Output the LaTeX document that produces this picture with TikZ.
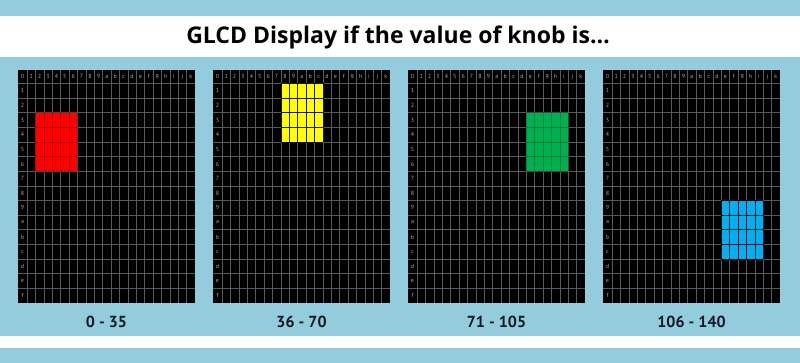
\documentclass[tikz,border=0pt]{standalone}
\usepackage{fontspec}
\setmainfont{PT Sans}
\newfontfamily\titlefont{Open Sans}
\definecolor{bandblue}{HTML}{93CDDD}
\definecolor{gridgray}{HTML}{5A5A5A}
\definecolor{labelgray}{HTML}{A8A8A8}
\definecolor{inkblack}{HTML}{101820}
\definecolor{litred}{HTML}{FF0000}
\definecolor{lityellow}{HTML}{FFFF00}
\definecolor{litgreen}{HTML}{00B050}
\definecolor{litblue}{HTML}{00B0F0}
\begin{document}
\begin{tikzpicture}[x=1pt, y=-1pt,
    gridline/.style = {draw=gridgray, line width=0.6pt},
    celltext/.style = {text=labelgray, inner sep=0pt, font=\fontsize{6}{7}\selectfont},
    titletext/.style = {text=black, inner sep=0pt, font=\titlefont\fontsize{23}{27}\selectfont\bfseries},
    rangetext/.style = {text=inkblack, inner sep=0pt, font=\fontsize{16}{20}\selectfont\bfseries}]
    \useasboundingbox (0, 0) rectangle (800, 363);
    \fill [bandblue] (0, 0) rectangle (800, 363);
    \fill [white] (0, 16) rectangle (800, 57);
    \fill [white] (0, 336) rectangle (800, 348);
    \node [titletext] (title) at (398, 37) {GLCD Display if the value of knob is…};
    % one GLCD panel per knob range
    \foreach \px/\rng/\lit/\op/\cs/\rs [count=\i] in
        {18/0 - 35/litred/0.25/2/3, 213/36 - 70/lityellow/0.9/8/1,
         408/71 - 105/litgreen/0.25/14/3, 603/106 - 140/litblue/0.9/14/9} {
        \fill [black] (\px, 70) rectangle ++(177, 233);
        \foreach \k in {0,...,19}
            \draw [gridline] ({\px + 9 + \k*8.4}, 70) -- ++(0, 233);
        \foreach \r in {0,...,14}
            \draw [gridline] (\px, {83.5 + \r*14.63}) -- ++(177, 0);
        % lit pixels: 5 columns by 4 rows
        \fill [\lit] ({\px + 9 + (\cs - 1)*8.4}, {83.5 + (\rs - 1)*14.63}) rectangle ++(42, 58.52);
        \foreach \k in {0,...,5}
            \draw [black, opacity=\op, line width=0.6pt]
                ({\px + 9 + (\cs - 1 + \k)*8.4}, {83.5 + (\rs - 1)*14.63}) -- ++(0, 58.52);
        \foreach \r in {0,...,4}
            \draw [black, opacity=\op, line width=0.6pt]
                ({\px + 9 + (\cs - 1)*8.4}, {83.5 + (\rs - 1 + \r)*14.63}) -- ++(42, 0);
        % header row and first column
        \node [celltext] (zero-\i) at ({\px + 4.5}, 76.75) {0};
        \foreach \c [count=\k] in {1,2,3,4,5,6,7,8,9,a,b,c,d,e,f,g,h,i,j,k}
            \node [celltext] (col-\i-\k) at ({\px + 9 + (\k - 1)*8.4 + 4.2}, 76.75) {\c};
        \foreach \c [count=\r] in {1,2,3,4,5,6,7,8,9,a,b,c,d,e,f}
            \node [celltext] (row-\i-\r) at ({\px + 4.5}, {83.5 + (\r - 0.5)*14.63}) {\c};
        \node [rangetext] (range-\i) at ({\px + 88.5}, 322) {\rng};
    }
\end{tikzpicture}
\end{document}
